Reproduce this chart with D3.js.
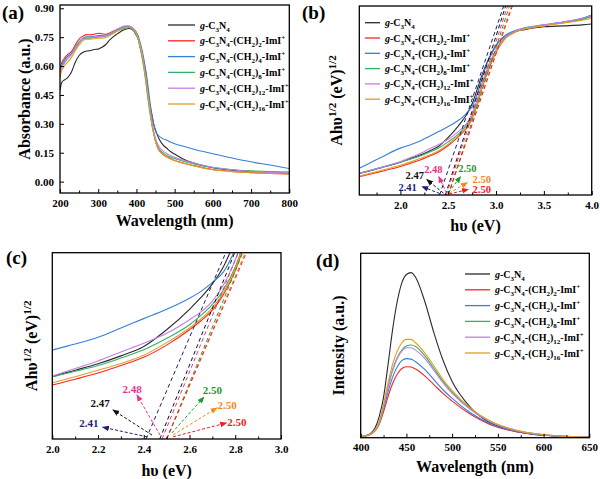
<!DOCTYPE html>
<html><head><meta charset="utf-8">
<script src="https://cdn.jsdelivr.net/npm/d3@7"></script>
<style>
body{margin:0;background:#fff}
svg{display:block}
text{font-family:"Liberation Serif","Times New Roman",serif;font-weight:bold;fill:#000}
</style></head>
<body><svg id="chart" width="600" height="479"></svg>
<script>
// ---------------- DATA ----------------
const seriesChains = [null, "2", "4", "8", "12", "16"];
const seriesColors = ["#2a2a2a", "#ff2424", "#3480dc", "#2fb266", "#c47ee8", "#e0a020"];

// (a) UV-vis absorbance
const wl = [200,205,210,215,220,230,240,250,260,270,280,290,300,310,320,330,340,350,360,370,380,390,400,405,410,415,420,425,430,435,440,445,450,455,460,470,480,490,500,525,550,600,650,700,750,800];
const absBlack = [0.474,0.517,0.526,0.532,0.54,0.569,0.62,0.655,0.672,0.678,0.681,0.686,0.688,0.698,0.712,0.736,0.753,0.767,0.781,0.79,0.795,0.788,0.759,0.74,0.698,0.66,0.612,0.56,0.474,0.40,0.353,0.30,0.267,0.24,0.219,0.19,0.172,0.155,0.143,0.115,0.097,0.072,0.06,0.052,0.047,0.043];
const absC2 = [0.58,0.62,0.635,0.65,0.66,0.675,0.71,0.74,0.755,0.763,0.762,0.765,0.77,0.768,0.765,0.772,0.782,0.79,0.80,0.806,0.806,0.795,0.765,0.74,0.70,0.655,0.60,0.54,0.46,0.38,0.31,0.255,0.21,0.18,0.16,0.14,0.128,0.118,0.11,0.095,0.083,0.063,0.053,0.047,0.043,0.04];
const absC4 = [0.585,0.61,0.625,0.64,0.65,0.665,0.70,0.725,0.745,0.752,0.752,0.755,0.758,0.758,0.76,0.768,0.778,0.788,0.798,0.804,0.806,0.798,0.775,0.755,0.72,0.68,0.63,0.57,0.50,0.42,0.35,0.30,0.262,0.245,0.235,0.222,0.214,0.205,0.197,0.182,0.168,0.145,0.123,0.103,0.086,0.068];
const absC8 = [0.575,0.60,0.615,0.63,0.64,0.66,0.69,0.72,0.74,0.745,0.745,0.748,0.75,0.752,0.755,0.763,0.772,0.782,0.79,0.797,0.80,0.79,0.76,0.735,0.69,0.64,0.58,0.51,0.43,0.36,0.30,0.25,0.21,0.185,0.168,0.148,0.135,0.126,0.12,0.105,0.092,0.073,0.062,0.056,0.052,0.05];
const absC12 = [0.56,0.595,0.61,0.625,0.64,0.66,0.695,0.725,0.742,0.748,0.748,0.75,0.753,0.755,0.758,0.767,0.78,0.792,0.802,0.808,0.808,0.798,0.77,0.745,0.705,0.66,0.60,0.535,0.455,0.38,0.315,0.265,0.225,0.198,0.18,0.158,0.145,0.134,0.126,0.11,0.097,0.075,0.062,0.053,0.048,0.045];
const absC16 = [0.54,0.58,0.595,0.61,0.62,0.645,0.68,0.71,0.732,0.74,0.74,0.742,0.745,0.745,0.748,0.758,0.77,0.782,0.792,0.80,0.802,0.794,0.765,0.74,0.70,0.655,0.595,0.53,0.45,0.375,0.305,0.25,0.208,0.178,0.16,0.14,0.127,0.117,0.11,0.094,0.082,0.062,0.052,0.046,0.042,0.04];
const absSeries = [absBlack, absC2, absC4, absC8, absC12, absC16];
const absXTicks = [200,300,400,500,600,700,800];
const absYTicks = [0,0.15,0.30,0.45,0.60,0.75,0.90];

// (b)/(c) Tauc plot (arbitrary units)
const hv = [1.57,1.8,2.0,2.1,2.2,2.3,2.4,2.5,2.6,2.65,2.7,2.75,2.8,2.85,2.9,2.95,3.0,3.05,3.1,3.2,3.3,3.5,3.7,3.9,4.0];
const taucBlack = [0.115,0.145,0.174,0.192,0.21,0.232,0.258,0.305,0.362,0.395,0.433,0.483,0.555,0.63,0.695,0.748,0.792,0.823,0.843,0.865,0.875,0.89,0.895,0.90,0.905];
const taucC2 = [0.097,0.125,0.151,0.167,0.184,0.205,0.228,0.262,0.305,0.33,0.36,0.405,0.47,0.56,0.635,0.70,0.755,0.798,0.83,0.862,0.878,0.897,0.912,0.93,0.95];
const taucC4 = [0.141,0.20,0.248,0.265,0.284,0.31,0.336,0.362,0.393,0.412,0.437,0.468,0.53,0.615,0.69,0.745,0.79,0.822,0.845,0.87,0.885,0.90,0.915,0.935,0.952];
const taucC8 = [0.113,0.145,0.174,0.189,0.205,0.226,0.249,0.281,0.319,0.345,0.376,0.418,0.48,0.57,0.645,0.71,0.76,0.805,0.835,0.866,0.88,0.898,0.912,0.93,0.945];
const taucC12 = [0.115,0.147,0.176,0.197,0.218,0.243,0.267,0.295,0.333,0.355,0.385,0.432,0.50,0.585,0.66,0.72,0.77,0.81,0.838,0.868,0.882,0.90,0.915,0.935,0.95];
const taucC16 = [0.10,0.13,0.157,0.174,0.192,0.211,0.234,0.269,0.31,0.335,0.366,0.41,0.475,0.565,0.64,0.705,0.757,0.80,0.83,0.862,0.878,0.895,0.91,0.925,0.935];
const taucSeries = [taucBlack, taucC2, taucC4, taucC8, taucC12, taucC16];

// band-gap tangent lines (x-intercept, x where tangent reaches 1.0)
const gapLabels = ["2.41","2.47","2.48","2.50","2.50","2.50"];
const gapValues = [2.41, 2.47, 2.48, 2.50, 2.50, 2.50];
const gapTopX   = [3.08, 3.10, 3.12, 3.14, 3.16, 3.17];
const gapColors = ["#1f1f70","#111111","#e8338a","#1e9a2e","#f7861c","#ee1c24"];
// annotation positions in data coords
const bLabelPos = [[2.075,0.04],[2.15,0.106],[2.345,0.134],[2.70,0.14],[2.85,0.082],[2.85,0.028]];
const bArrFrom  = [[2.41,0.008],[2.45,0.01],[2.484,0.01],[2.505,0.015],[2.51,0.01],[2.51,0.005]];
const bArrTo    = [[2.225,0.045],[2.275,0.082],[2.40,0.098],[2.63,0.098],[2.70,0.065],[2.71,0.03]];
const cLabelPos = [[2.16,0.045],[2.209,0.10],[2.349,0.14],[2.70,0.137],[2.764,0.095],[2.807,0.047]];
const cArrFrom  = [[2.415,0.006],[2.436,0.011],[2.471,0.011],[2.523,0.017],[2.528,0.011],[2.528,0.006]];
const cArrTo    = [[2.22,0.033],[2.265,0.081],[2.37,0.123],[2.663,0.117],[2.72,0.087],[2.762,0.045]];
const bXTicks = [2.0,2.5,3.0,3.5,4.0];
const bXMinor = [1.75,2.25,2.75,3.25,3.75];
const cXTicks = [2.0,2.2,2.4,2.6,2.8,3.0];
const cXMinor = [2.1,2.3,2.5,2.7,2.9];

// (d) photoluminescence
const plWl = [400,410,420,425,430,435,440,445,450,455,460,470,480,490,500,520,540,560,580,600,625,650];
const plBlack = [0.005,0.02,0.11,0.22,0.40,0.59,0.74,0.84,0.885,0.895,0.87,0.74,0.57,0.42,0.305,0.165,0.085,0.047,0.025,0.013,0.006,0.002];
const plC2  = [0.005,0.016,0.07,0.14,0.225,0.295,0.345,0.375,0.385,0.383,0.372,0.335,0.288,0.24,0.198,0.127,0.075,0.043,0.024,0.013,0.006,0.002];
const plC4  = [0.005,0.017,0.075,0.155,0.25,0.33,0.385,0.418,0.429,0.426,0.412,0.37,0.315,0.26,0.213,0.135,0.08,0.046,0.026,0.014,0.006,0.002];
const plC8  = [0.005,0.018,0.08,0.17,0.28,0.37,0.435,0.475,0.497,0.503,0.495,0.445,0.375,0.305,0.247,0.155,0.092,0.053,0.029,0.016,0.007,0.002];
const plC12 = [0.005,0.018,0.08,0.17,0.275,0.365,0.43,0.47,0.488,0.488,0.475,0.43,0.365,0.297,0.24,0.152,0.09,0.052,0.029,0.016,0.007,0.002];
const plC16 = [0.005,0.018,0.08,0.18,0.30,0.40,0.47,0.515,0.533,0.533,0.515,0.46,0.39,0.315,0.255,0.16,0.095,0.055,0.03,0.017,0.007,0.002];
const plSeries = [plBlack, plC2, plC4, plC8, plC12, plC16];
const plXTicks = [400,450,500,550,600,650];
const plXMinor = [425,475,525,575,625];

// ---------------- DRAWING ----------------
const svg = d3.select("#chart");
const defs = svg.append("defs");
gapColors.forEach((c,i)=>{
  defs.append("marker").attr("id","arr"+i).attr("viewBox","0 0 10 10")
    .attr("refX",9).attr("refY",5).attr("markerWidth",7).attr("markerHeight",7)
    .attr("markerUnits","userSpaceOnUse").attr("orient","auto")
    .append("path").attr("d","M0,1 L10,5 L0,9 Z").attr("fill",c);
});

function rich(t, parts, fs){
  let shift = 0;
  parts.forEach(p=>{
    const ts = t.append("tspan").text(p.t);
    const target = p.sub ? fs*0.3 : (p.sup ? -fs*0.4 : 0);
    ts.attr("dy", target-shift);
    shift = target;
    if(p.sub||p.sup) ts.attr("font-size", fs*0.7);
    if(p.i) ts.attr("font-style","italic");
  });
}
function seriesParts(chain){
  const p = [{t:"g",i:true},{t:"-C"},{t:"3",sub:true},{t:"N"},{t:"4",sub:true}];
  if(chain){ p.push({t:"-(CH"},{t:"2",sub:true},{t:")"},{t:chain,sub:true},{t:"-ImI"},{t:"+",sup:true}); }
  return p;
}
const taucTitle = [{t:"Ah\u03c5"},{t:"1/2",sup:true},{t:" (eV)"},{t:"1/2",sup:true}];

function panel(cfg){
  const g = svg.append("g");
  const x = d3.scaleLinear().domain(cfg.xd).range([cfg.l, cfg.r]);
  const y = d3.scaleLinear().domain(cfg.yd).range([cfg.b, cfg.t]);
  const cid = "clip"+cfg.id;
  defs.append("clipPath").attr("id",cid).append("rect")
    .attr("x",cfg.l).attr("y",cfg.t).attr("width",cfg.r-cfg.l).attr("height",cfg.b-cfg.t);
  const plot = g.append("g").attr("clip-path",`url(#${cid})`);
  const ax = g.append("g").attr("transform",`translate(0,${cfg.b})`)
    .call(d3.axisBottom(x).tickValues(cfg.xt).tickSize(-4).tickPadding(6).tickFormat(cfg.xf));
  ax.select(".domain").remove();
  ax.selectAll("text").attr("font-size",cfg.tfs).attr("font-family",null);
  if(cfg.xm){
    g.append("g").attr("transform",`translate(0,${cfg.b})`)
      .call(d3.axisBottom(x).tickValues(cfg.xm).tickSize(-2.5).tickFormat(""))
      .select(".domain").remove();
  }
  if(cfg.yt){
    const ay = g.append("g").attr("transform",`translate(${cfg.l},0)`)
      .call(d3.axisLeft(y).tickValues(cfg.yt).tickSize(-4).tickPadding(6).tickFormat(cfg.yf));
    ay.select(".domain").remove();
    ay.selectAll("text").attr("font-size",cfg.tfs).attr("font-family",null);
  }
  g.append("rect").attr("x",cfg.l).attr("y",cfg.t).attr("width",cfg.r-cfg.l).attr("height",cfg.b-cfg.t)
    .attr("fill","none").attr("stroke","#000").attr("stroke-width",1.3);
  const xt = g.append("text").attr("x",(cfg.l+cfg.r)/2).attr("y",cfg.xty).attr("text-anchor","middle").attr("font-size",16);
  if(typeof cfg.xtitle==="string") xt.text(cfg.xtitle); else rich(xt,cfg.xtitle,16);
  const yt = g.append("text").attr("transform",`translate(${cfg.ytx},${(cfg.t+cfg.b)/2}) rotate(-90)`)
    .attr("text-anchor","middle").attr("font-size",16);
  if(typeof cfg.ytitle==="string") yt.text(cfg.ytitle); else rich(yt,cfg.ytitle,16);
  g.append("text").attr("x",cfg.lx).attr("y",cfg.ly).attr("font-size",19).text(cfg.label);
  return {g, plot, x, y};
}

function drawSeries(P, xs, arr, curve){
  arr.forEach((vals,i)=>{
    const pts = xs.map((v,j)=>[v, vals[j]]);
    P.plot.append("path").datum(pts).attr("fill","none").attr("stroke",seriesColors[i]).attr("stroke-width",1.1)
      .attr("d", d3.line().x(d=>P.x(d[0])).y(d=>P.y(d[1])).curve(curve)(pts));
  });
}
function drawLegend(P, x0, y0, dy, len){
  seriesChains.forEach((c,i)=>{
    const yy = y0 + i*dy;
    P.g.append("line").attr("x1",x0).attr("x2",x0+len).attr("y1",yy).attr("y2",yy)
      .attr("stroke",seriesColors[i]).attr("stroke-width",1.3);
    const t = P.g.append("text").attr("x",x0+len+5).attr("y",yy+3.5).attr("font-size",10);
    rich(t, seriesParts(c), 10);
  });
}
function drawGaps(P, labelPos, from, to, fs){
  const yTop = P.y.domain()[1];
  gapValues.forEach((e,i)=>{
    const xTop = e + (gapTopX[i]-e)*yTop;
    P.plot.append("line").attr("x1",P.x(e)).attr("y1",P.y(0)).attr("x2",P.x(xTop)).attr("y2",P.y(yTop))
      .attr("stroke",gapColors[i]).attr("stroke-width",1).attr("stroke-dasharray","4,3");
  });
  gapLabels.forEach((lab,i)=>{
    P.g.append("line").attr("x1",P.x(from[i][0])).attr("y1",P.y(from[i][1]))
      .attr("x2",P.x(to[i][0])).attr("y2",P.y(to[i][1]))
      .attr("stroke",gapColors[i]).attr("stroke-width",1).attr("stroke-dasharray","3,2")
      .attr("marker-end",`url(#arr${i})`);
    P.g.append("text").attr("x",P.x(labelPos[i][0])).attr("y",P.y(labelPos[i][1])).attr("dy","0.35em")
      .attr("text-anchor","middle").attr("font-size",fs).style("fill",gapColors[i]).text(lab);
  });
}

// Panel (a)
const A = panel({id:"a", l:60, r:289.3, t:5, b:193, xd:[200,800], yd:[-0.059,0.917],
  xt:absXTicks, xm:[250,350,450,550,650,750], xf:d3.format("d"), yt:absYTicks, yf:d3.format(".2f"), tfs:11,
  xtitle:"Wavelength (nm)", xty:226, ytitle:"Absorbance (a.u.)", ytx:30, label:"(a)", lx:2, ly:19});
drawSeries(A, wl, absSeries, d3.curveMonotoneX);
drawLegend(A, 168, 25, 15.8, 27);

// Panel (b)
const B = panel({id:"b", l:359.3, r:591.7, t:6, b:195, xd:[1.57,4.0], yd:[0,1],
  xt:bXTicks, xm:bXMinor, xf:d3.format(".1f"), tfs:11,
  xtitle:"h\u03c5 (eV)", xty:231, ytitle:taucTitle, ytx:342, label:"(b)", lx:302, ly:19});
drawSeries(B, hv, taucSeries, d3.curveMonotoneX);
drawGaps(B, bLabelPos, bArrFrom, bArrTo, 10.5);
drawLegend(B, 365, 22.7, 15.3, 15);

// Panel (c)
const C = panel({id:"c", l:52.3, r:281, t:252.7, b:439, xd:[2.0,3.0], yd:[0,0.52],
  xt:cXTicks, xm:cXMinor, xf:d3.format(".1f"), tfs:11,
  xtitle:"h\u03c5 (eV)", xty:476, ytitle:taucTitle, ytx:37, label:"(c)", lx:6, ly:264});
drawSeries(C, hv, taucSeries, d3.curveMonotoneX);
drawGaps(C, cLabelPos, cArrFrom, cArrTo, 11);

// Panel (d)
const D = panel({id:"d", l:360.7, r:589.3, t:253.3, b:437.7, xd:[400,650], yd:[0,1],
  xt:plXTicks, xm:plXMinor, xf:d3.format("d"), tfs:11,
  xtitle:"Wavelength (nm)", xty:472, ytitle:"Intensity (a.u.)", ytx:344, label:"(d)", lx:316, ly:267});
drawSeries(D, plWl, plSeries, d3.curveMonotoneX);
drawLegend(D, 465, 274, 15.8, 25);
</script></body></html>
